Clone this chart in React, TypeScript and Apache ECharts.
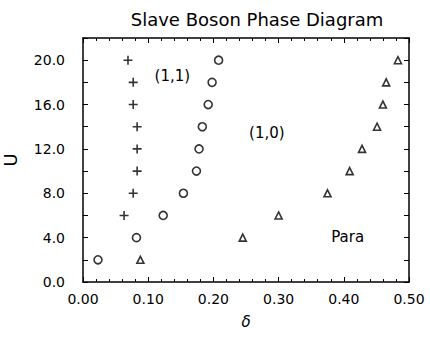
import React, { useEffect, useRef } from "react";
import * as echarts from "echarts";

const uValues = [20, 18, 16, 14, 12, 10, 8, 6, 4, 2];
const crossDelta = [0.069, 0.077, 0.077, 0.083, 0.083, 0.083, 0.077, 0.063];
const crossU = [20, 18, 16, 14, 12, 10, 8, 6];
const circleDelta = [0.208, 0.198, 0.192, 0.183, 0.178, 0.174, 0.154, 0.123, 0.082, 0.023];
const triangleDelta = [0.483, 0.465, 0.46, 0.451, 0.428, 0.409, 0.375, 0.3, 0.245, 0.088];
const regionNames = ["(1,1)", "(1,0)", "Para"];
const regionDelta = [0.137, 0.282, 0.406];
const regionU = [18.6, 13.4, 4.05];

const FONT = "'DejaVu Sans', sans-serif";

export default function App() {
  const ref = useRef<HTMLDivElement>(null);
  useEffect(() => {
    if (!ref.current) return;
    const chart = echarts.init(ref.current, null, { renderer: "svg" });
    const axisLine = { show: true, onZero: false, lineStyle: { color: "#000", width: 1.5 } };
    const xTick = { show: true, inside: true, length: 5, lineStyle: { color: "#000", width: 1 } };
    const xMinor = { show: true, splitNumber: 5, length: 3, lineStyle: { color: "#000", width: 1 } };
    const yTick = { show: true, inside: true, length: 5, lineStyle: { color: "#000", width: 1 } };
    chart.setOption({
      animation: false,
      backgroundColor: "#fff",
      title: {
        text: "Slave Boson Phase Diagram",
        left: 252,
        top: 5,
        textAlign: "center",
        textStyle: { fontFamily: FONT, fontSize: 18, fontWeight: "normal", color: "#000" },
      },
      grid: { left: 83, right: 21, top: 38, bottom: 59, outerBoundsMode: "none", containLabel: false },
      xAxis: [
        {
          type: "value",
          min: 0,
          max: 0.5,
          interval: 0.1,
          position: "bottom",
          name: "δ",
          nameLocation: "middle",
          nameGap: 32,
          nameTextStyle: { fontFamily: FONT, fontSize: 15, fontStyle: "italic", color: "#000" },
          axisLine,
          axisTick: xTick,
          minorTick: xMinor,
          splitLine: { show: false },
          axisLabel: {
            fontFamily: FONT,
            fontSize: 14,
            color: "#000",
            margin: 10,
            formatter: (v: number) => v.toFixed(2),
          },
        },
        {
          type: "value",
          min: 0,
          max: 0.5,
          interval: 0.1,
          position: "top",
          axisLine,
          axisTick: xTick,
          minorTick: xMinor,
          splitLine: { show: false },
          axisLabel: { show: false },
        },
      ],
      yAxis: [
        {
          type: "value",
          min: 0,
          max: 22,
          interval: 2,
          position: "left",
          name: "U",
          nameLocation: "middle",
          nameGap: 64,
          nameTextStyle: { fontFamily: FONT, fontSize: 18, color: "#000" },
          axisLine,
          axisTick: yTick,
          splitLine: { show: false },
          axisLabel: {
            fontFamily: FONT,
            fontSize: 14,
            color: "#000",
            margin: 18,
            formatter: (v: number) => (v % 4 === 0 ? v.toFixed(1) : ""),
          },
        },
        {
          type: "value",
          min: 0,
          max: 22,
          interval: 2,
          position: "right",
          axisLine,
          axisTick: yTick,
          splitLine: { show: false },
          axisLabel: { show: false },
        },
      ],
      series: [
        {
          type: "scatter",
          name: "cross",
          symbol: "path://M0,5 L10,5 M5,0 L5,10",
          symbolSize: 9,
          itemStyle: { color: "none", borderColor: "#000", borderWidth: 1.6 },
          data: crossDelta.map((d, i) => [d, crossU[i]]),
        },
        {
          type: "scatter",
          name: "circle",
          symbol: "circle",
          symbolSize: 8,
          itemStyle: { color: "#fff", borderColor: "#000", borderWidth: 1.6 },
          data: circleDelta.map((d, i) => [d, uValues[i]]),
        },
        {
          type: "scatter",
          name: "triangle",
          symbol: "triangle",
          symbolSize: 7,
          itemStyle: { color: "#fff", borderColor: "#000", borderWidth: 1.6 },
          data: triangleDelta.map((d, i) => [d, uValues[i]]),
        },
        {
          type: "scatter",
          name: "regions",
          symbolSize: 1,
          silent: true,
          itemStyle: { color: "#fff", opacity: 1 },
          label: {
            show: true,
            position: "inside",
            formatter: (p: any) => regionNames[p.dataIndex],
            fontFamily: FONT,
            fontSize: 15,
            color: "#000",
            opacity: 1,
            textBorderWidth: 0,
          },
          data: regionDelta.map((d, i) => [d, regionU[i]]),
        },
      ],
    });
    return () => chart.dispose();
  }, []);
  return (
    <div
      ref={ref}
      style={{ position: "absolute", left: 0, top: 0, width: 430, height: 341 }}
    />
  );
}
